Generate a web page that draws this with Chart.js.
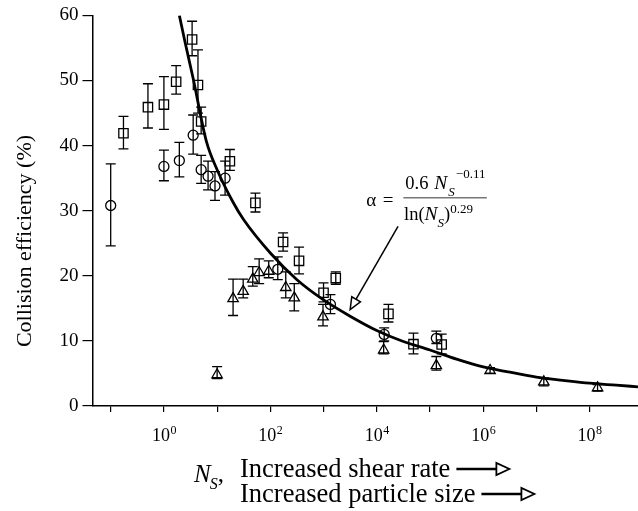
<!DOCTYPE html>
<html>
<head>
<meta charset="utf-8">
<script src="https://cdn.jsdelivr.net/npm/chart.js@4.4.1/dist/chart.umd.min.js"></script>
<style>
html,body{margin:0;padding:0;background:#fff;}
canvas{display:block;}
</style>
</head>
<body>
<canvas id="c" width="638" height="511"></canvas>
<script>
// ---------------- data (x values are log10(N_S)) ----------------
const circleLogNs  = [-1.0, 0.0, 0.29, 0.55, 0.70, 0.83, 0.96, 1.15, 2.14, 3.13, 4.14, 5.12];
const circleEff    = [30.8, 36.8, 37.7, 41.6, 36.3, 35.3, 33.8, 35.0, 21.0, 15.6, 11.0, 10.4];
const circleLow    = [24.6, 34.6, 35.2, 38.7, 34.2, 33.2, 31.6, 32.4, 19.4, 14.2, 10.0, 9.6];
const circleHigh   = [37.2, 39.3, 40.5, 44.7, 38.5, 37.6, 36.0, 37.6, 22.9, 17.1, 12.0, 11.5];

const squareLogNs  = [-0.76, -0.30, 0.0, 0.23, 0.53, 0.64, 0.70, 1.24, 1.72, 2.24, 2.54, 3.00, 3.23, 4.22, 4.69, 5.22];
const squareEff    = [41.9, 45.9, 46.3, 49.8, 56.3, 49.3, 43.7, 37.6, 31.2, 25.2, 22.3, 17.4, 19.65, 14.15, 9.5, 9.45];
const squareLow    = [39.5, 42.7, 42.5, 47.9, 53.8, 45.0, 41.8, 36.2, 29.8, 23.8, 20.3, 16.0, 18.7, 12.9, 8.0, 8.0];
const squareHigh   = [44.5, 49.5, 50.6, 52.3, 59.1, 54.7, 45.9, 39.4, 32.7, 26.6, 24.4, 18.9, 20.6, 15.6, 11.2, 11.05];

const triangleLogNs = [1.00, 1.30, 1.49, 1.67, 1.79, 1.97, 2.29, 2.45, 2.99, 4.13, 5.12, 6.13, 7.14, 8.15];
const triangleEff   = [4.8, 16.5, 17.6, 19.5, 20.5, 20.7, 18.2, 16.6, 13.7, 8.6, 6.2, 5.45, 3.7, 2.8];
const triangleLow   = [4.2, 13.9, 16.6, 18.4, 18.8, 19.7, 16.6, 14.6, 12.3, 8.0, 5.5, 5.0, 3.1, 2.3];
const triangleHigh  = [6.06, 19.5, 19.5, 21.4, 22.6, 22.3, 20.6, 18.8, 15.6, 9.9, 7.6, 5.9, 4.3, 3.3];

// fitted curve
const fitLogNs = [0.29, 0.4, 0.55, 0.8, 1.0, 1.3, 1.5, 2.0, 2.5, 3.0, 3.5, 4.0, 4.5, 5.0, 5.5, 6.0, 6.5, 7.0, 7.5, 8.0, 8.5, 8.91];
const fitEff   = [60, 55.8, 50.3, 40.6, 36.3, 31.3, 28.6, 23.5, 19.4, 16.3, 13.8, 11.6, 9.9, 8.6, 7.2, 6.0, 5.2, 4.45, 3.95, 3.5, 3.2, 2.95];

// axes
const xTickExponents  = [-1, 0, 1, 2, 3, 4, 5, 6, 7, 8];
const xLabelExponents = [0, 2, 4, 6, 8];
const xRangeLog = [-1.342, 8.91];
const yRange = [0, 60];
const yStep = 10;

const yTitle = 'Collision efficiency (%)';
const xTitleLine1 = 'Increased shear rate';
const xTitleLine2 = 'Increased particle size';

const SERIF = '"Liberation Serif", "Times New Roman", Times, serif';

function toPoints(logs, vals) {
  return logs.map((l, i) => ({ x: Math.pow(10, l), y: vals[i] }));
}

// ---------------- plugins ----------------
const errorBarPlugin = {
  id: 'errorBars',
  afterDatasetsDraw(chart) {
    const ctx = chart.ctx, xs = chart.scales.x, ys = chart.scales.y;
    ctx.save();
    ctx.strokeStyle = '#000';
    ctx.lineWidth = 1.3;
    chart.data.datasets.forEach((ds) => {
      if (!ds.errLow) return;
      ds.data.forEach((p, i) => {
        const px = xs.getPixelForValue(p.x);
        const yl = ys.getPixelForValue(ds.errLow[i]);
        const yh = ys.getPixelForValue(ds.errHigh[i]);
        ctx.beginPath();
        ctx.moveTo(px, yl); ctx.lineTo(px, yh);
        ctx.moveTo(px - 5, yl); ctx.lineTo(px + 5, yl);
        ctx.moveTo(px - 5, yh); ctx.lineTo(px + 5, yh);
        ctx.stroke();
      });
    });
    ctx.restore();
  }
};

function drawOpenArrowHead(ctx, tipX, tipY, ux, uy, len, half) {
  const bx = tipX - ux * len, by = tipY - uy * len;
  const nx = -uy, ny = ux;
  ctx.beginPath();
  ctx.moveTo(tipX, tipY);
  ctx.lineTo(bx + nx * half, by + ny * half);
  ctx.lineTo(bx - nx * half, by - ny * half);
  ctx.closePath();
  ctx.fillStyle = '#fff';
  ctx.fill();
  ctx.stroke();
}

const annotatePlugin = {
  id: 'annotate',
  afterDraw(chart) {
    const ctx = chart.ctx, xs = chart.scales.x, ys = chart.scales.y;
    const area = chart.chartArea;
    ctx.save();
    ctx.fillStyle = '#000';
    ctx.strokeStyle = '#000';
    ctx.textBaseline = 'alphabetic';
    ctx.textAlign = 'left';

    // x tick labels 10^n
    xLabelExponents.forEach((e) => {
      const px = xs.getPixelForValue(Math.pow(10, e));
      ctx.font = '18px ' + SERIF;
      const w1 = ctx.measureText('10').width;
      ctx.font = '12px ' + SERIF;
      const w2 = ctx.measureText(String(e)).width;
      const start = px - (w1 + w2) / 2;
      ctx.font = '18px ' + SERIF;
      ctx.fillText('10', start, area.bottom + 35);
      ctx.font = '12px ' + SERIF;
      ctx.fillText(String(e), start + w1 + 0.5, area.bottom + 28);
    });

    // y title
    ctx.save();
    ctx.translate(25, 241);
    ctx.rotate(-Math.PI / 2);
    ctx.textAlign = 'center';
    ctx.textBaseline = 'middle';
    ctx.font = '22px ' + SERIF;
    ctx.fillText(yTitle, 0, 0);
    ctx.restore();

    // x title
    const b1 = area.bottom + 71, b2 = area.bottom + 96;
    const nBase = area.bottom + 76;
    ctx.font = 'italic 25px ' + SERIF;
    ctx.fillText('N', 194, nBase);
    let nw = ctx.measureText('N').width;
    ctx.font = 'italic 16px ' + SERIF;
    ctx.fillText('S', 194 + nw - 1, nBase + 7);
    let sw = ctx.measureText('S').width;
    ctx.font = '25px ' + SERIF;
    ctx.fillText(',', 194 + nw - 1 + sw, nBase);

    ctx.font = '26.5px ' + SERIF;
    ctx.fillText(xTitleLine1, 240, b1);
    const e1 = 240 + ctx.measureText(xTitleLine1).width;
    ctx.fillText(xTitleLine2, 240, b2);
    const e2 = 240 + ctx.measureText(xTitleLine2).width;
    ctx.lineWidth = 2.4;
    [[e1, b1 - 8], [e2, b2 - 8]].forEach(([ex, cy]) => {
      const s = ex + 6, shaftEnd = s + 40, tip = shaftEnd + 13;
      ctx.beginPath();
      ctx.moveTo(s, cy); ctx.lineTo(shaftEnd, cy);
      ctx.stroke();
      ctx.lineWidth = 1.8;
      drawOpenArrowHead(ctx, tip, cy, 1, 0, 13, 6);
      ctx.lineWidth = 2.4;
    });

    // equation annotation
    const ax = xs.getPixelForValue(Math.pow(10, 4.5));
    const ay = ys.getPixelForValue(32.0);
    ctx.fillStyle = '#000';
    ctx.font = '19px ' + SERIF;
    ctx.fillText('\u03B1', ax - 37, ay + 8.5);
    ctx.fillText('=', ax - 20.5, ay + 8);
    // fraction bar
    ctx.strokeStyle = '#777';
    ctx.lineWidth = 1.6;
    ctx.beginPath();
    ctx.moveTo(ax, ay); ctx.lineTo(ax + 83.5, ay);
    ctx.stroke();
    ctx.strokeStyle = '#000';
    // numerator
    let cx = ax + 2;
    const nb = ay - 8.3;
    ctx.font = '18.5px ' + SERIF;
    ctx.fillText('0.6', cx, nb);
    cx = ax + 31;
    ctx.font = 'italic 19.5px ' + SERIF;
    ctx.fillText('N', cx, nb);
    cx += ctx.measureText('N').width + 1;
    ctx.font = 'italic 13px ' + SERIF;
    ctx.fillText('S', cx, nb + 7);
    cx += ctx.measureText('S').width + 1;
    ctx.font = '13px ' + SERIF;
    ctx.fillText('\u22120.11', cx, nb - 11);
    // denominator
    const db = ay + 22;
    cx = ax + 0.7;
    ctx.font = '18.5px ' + SERIF;
    ctx.fillText('ln(', cx, db);
    cx += ctx.measureText('ln(').width;
    ctx.font = 'italic 19.5px ' + SERIF;
    ctx.fillText('N', cx, db);
    cx += ctx.measureText('N').width;
    ctx.font = 'italic 13px ' + SERIF;
    ctx.fillText('S', cx, db + 7);
    cx += ctx.measureText('S').width;
    ctx.font = '18.5px ' + SERIF;
    ctx.fillText(')', cx, db);
    cx += ctx.measureText(')').width;
    ctx.font = '13px ' + SERIF;
    ctx.fillText('0.29', cx, db - 7);

    // pointer arrow to the curve
    const sx = xs.getPixelForValue(Math.pow(10, 4.40)), sy = ys.getPixelForValue(27.6);
    const tx = xs.getPixelForValue(Math.pow(10, 3.50)), ty = ys.getPixelForValue(14.8);
    const L = Math.hypot(tx - sx, ty - sy);
    const ux = (tx - sx) / L, uy = (ty - sy) / L;
    ctx.lineWidth = 1.5;
    ctx.beginPath();
    ctx.moveTo(sx, sy);
    ctx.lineTo(tx - ux * 12, ty - uy * 12);
    ctx.stroke();
    drawOpenArrowHead(ctx, tx, ty, ux, uy, 12, 5);

    ctx.restore();
  }
};

// ---------------- chart ----------------
const markerCommon = {
  type: 'scatter',
  borderColor: '#000',
  backgroundColor: 'rgba(0,0,0,0)',
  borderWidth: 1.3,
  showLine: false
};

new Chart(document.getElementById('c'), {
  data: {
    datasets: [
      Object.assign({}, markerCommon, {
        label: 'circles', data: toPoints(circleLogNs, circleEff),
        pointStyle: 'circle', pointRadius: 5,
        errLow: circleLow, errHigh: circleHigh
      }),
      Object.assign({}, markerCommon, {
        label: 'squares', data: toPoints(squareLogNs, squareEff),
        pointStyle: 'rect', pointRadius: 6.6,
        errLow: squareLow, errHigh: squareHigh
      }),
      Object.assign({}, markerCommon, {
        label: 'triangles', data: toPoints(triangleLogNs, triangleEff),
        pointStyle: 'triangle', pointRadius: 6,
        errLow: triangleLow, errHigh: triangleHigh
      }),
      {
        type: 'line', label: 'fit',
        data: toPoints(fitLogNs, fitEff),
        borderColor: '#000', borderWidth: 2.8,
        pointRadius: 0, fill: false,
        cubicInterpolationMode: 'monotone'
      }
    ]
  },
  options: {
    responsive: false,
    animation: false,
    devicePixelRatio: 1,
    layout: { autoPadding: false, padding: { top: 10.5, right: 0, left: 0, bottom: 0 } },
    plugins: { legend: { display: false }, tooltip: { enabled: false } },
    scales: {
      x: {
        type: 'logarithmic',
        bounds: 'data',
        min: Math.pow(10, xRangeLog[0]),
        max: Math.pow(10, xRangeLog[1]),
        afterBuildTicks(s) { s.ticks = xTickExponents.map(e => ({ value: Math.pow(10, e) })); },
        afterFit(s) { s.height = 105; },
        ticks: { autoSkip: false, maxRotation: 0, callback: () => '' },
        grid: { drawOnChartArea: false, drawTicks: true, tickLength: 6, color: '#000', lineWidth: 1.2 },
        border: { color: '#000', width: 1.5 }
      },
      y: {
        type: 'linear',
        min: yRange[0], max: yRange[1],
        afterFit(s) { s.width = 92.5; },
        ticks: { stepSize: yStep, color: '#000', padding: 4, font: { family: SERIF, size: 19 } },
        grid: { drawOnChartArea: false, drawTicks: true, tickLength: 10, color: '#000', lineWidth: 1.2 },
        border: { color: '#000', width: 1.5 }
      }
    }
  },
  plugins: [errorBarPlugin, annotatePlugin]
});
</script>
</body>
</html>
